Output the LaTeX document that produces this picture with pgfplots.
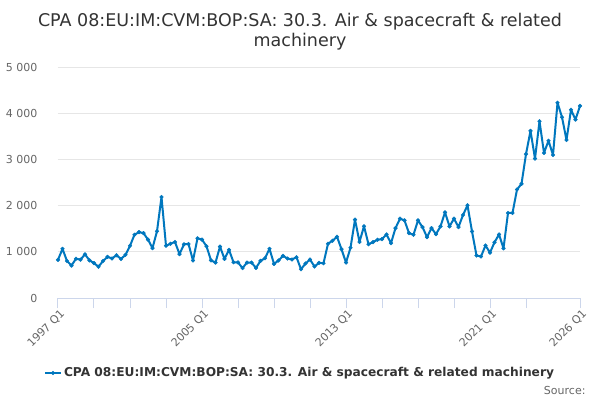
\documentclass[border=0pt]{standalone}
\usepackage{pgfplots}
\pgfplotsset{compat=1.18}
\usepackage{fontspec}
\setmainfont{DejaVu Sans}
\definecolor{linec}{RGB}{0,119,190}
\definecolor{axisc}{HTML}{CCD6EB}
\definecolor{gridc}{HTML}{E6E6E6}
\definecolor{txtc}{HTML}{666666}
\definecolor{titc}{HTML}{333333}
\begin{document}
\begin{tikzpicture}[x=1pt,y=1pt]
\path[use as bounding box, fill=white] (0,0) rectangle (600,400);
\node[anchor=base, text=titc, font=\fontsize{17.5}{20}\selectfont] at (300,373) {CPA 08:EU:IM:CVM:BOP:SA: 30.3. Air \& spacecraft \& related};
\node[anchor=base, text=titc, font=\fontsize{17.5}{20}\selectfont] at (300,353) {machinery};
\node[anchor=base east, text=txtc, font=\fontsize{11}{13}\selectfont] at (589,6) {Source:};
\begin{axis}[
  scale only axis,
  width=522pt, height=231pt,
  at={(58pt,102pt)}, anchor=south west,
  xmin=0, xmax=116, ymin=0, ymax=5000,
  axis lines*=left,
  x axis line style={draw=axisc, line width=1pt},
  y axis line style={draw=none},
  xtick={0,32,64,96,116},
  xticklabels={1997 Q1,2005 Q1,2013 Q1,2021 Q1,2026 Q1},
  minor xtick={8,16,24,40,48,56,72,80,88,104},
  ytick={0,1000,2000,3000,4000,5000},
  yticklabels={0,1 000,2 000,3 000,4 000,5 000},
  tick align=outside,
  xtick style={draw=axisc, line width=1pt},
  minor x tick style={draw=axisc, line width=1pt},
  ytick style={draw=none},
  major tick length=10pt,
  minor tick length=10pt,
  ymajorgrids,
  grid style={draw=gridc, line width=0.8pt},
  xticklabel style={rotate=45, anchor=north east, text=txtc, font=\fontsize{11}{13}\selectfont, xshift=4pt, yshift=2pt},
  yticklabel style={anchor=east, text=txtc, font=\fontsize{11}{13}\selectfont, xshift=-7pt},
  legend style={at={(0.4636,-0.3247)}, anchor=center, draw=none, fill=none, font=\fontsize{12.2}{15}\selectfont\bfseries, text=titc},
  legend image code/.code={\draw[#1, line width=2pt, mark=none] (0pt,0pt) -- (16pt,0pt); \draw[#1, only marks] plot coordinates {(8pt,0pt)};},
  clip=false,
]
\addplot[color=linec, line width=2pt, line join=round, mark=*, mark size=1.9pt, mark options={solid, fill=linec, draw=linec, line width=0.4pt}] coordinates {
(0,826) (1,1065) (2,800) (3,702) (4,850) (5,830) (6,945) (7,815) (8,755) (9,677)
(10,800) (11,891) (12,855) (13,926) (14,845) (15,935) (16,1130) (17,1370) (18,1426) (19,1404)
(20,1264) (21,1080) (22,1445) (23,2187) (24,1130) (25,1174) (26,1213) (27,950) (28,1162) (29,1170)
(30,811) (31,1292) (32,1264) (33,1120) (34,815) (35,767) (36,1112) (37,847) (38,1043) (39,774)
(40,770) (41,648) (42,767) (43,767) (44,652) (45,804) (46,861) (47,1065) (48,739) (49,811)
(50,913) (51,854) (52,833) (53,883) (54,622) (55,746) (56,833) (57,681) (58,761) (59,752)
(60,1174) (61,1239) (62,1326) (63,1057) (64,767) (65,1087) (66,1696) (67,1213) (68,1553) (69,1163)
(70,1209) (71,1261) (72,1274) (73,1376) (74,1187) (75,1513) (76,1717) (77,1680) (78,1404) (79,1369)
(80,1680) (81,1535) (82,1318) (83,1513) (84,1383) (85,1550) (86,1854) (87,1550) (88,1717) (89,1535)
(90,1796) (91,2007) (92,1441) (93,920) (94,898) (95,1137) (96,982) (97,1205) (98,1376) (99,1075)
(100,1840) (101,1840) (102,2348) (103,2470) (104,3115) (105,3618) (106,3018) (107,3826) (108,3140) (109,3404)
(110,3096) (111,4227) (112,3913) (113,3420) (114,4075) (115,3862) (116,4159)
};
\addlegendentry{CPA 08:EU:IM:CVM:BOP:SA: 30.3. Air \& spacecraft \& related machinery}
\end{axis}
\end{tikzpicture}
\end{document}
